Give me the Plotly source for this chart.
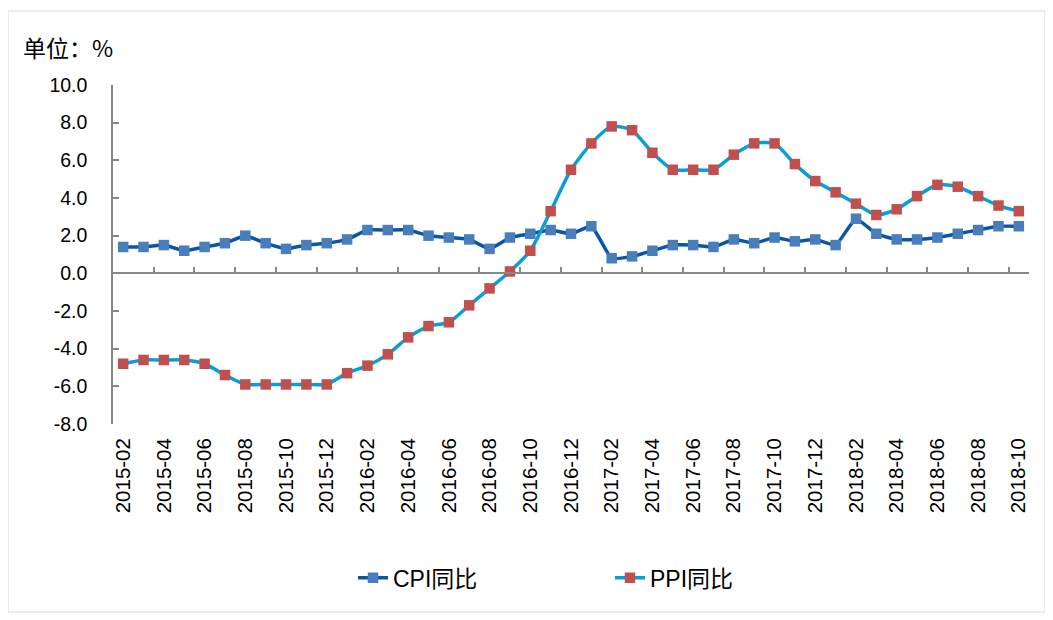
import plotly.graph_objects as go

months = ["2015-02", "2015-03", "2015-04", "2015-05", "2015-06", "2015-07", "2015-08", "2015-09", "2015-10", "2015-11", "2015-12",
          "2016-01", "2016-02", "2016-03", "2016-04", "2016-05", "2016-06", "2016-07", "2016-08", "2016-09", "2016-10", "2016-11", "2016-12",
          "2017-01", "2017-02", "2017-03", "2017-04", "2017-05", "2017-06", "2017-07", "2017-08", "2017-09", "2017-10", "2017-11", "2017-12",
          "2018-01", "2018-02", "2018-03", "2018-04", "2018-05", "2018-06", "2018-07", "2018-08", "2018-09", "2018-10"]

cpi = [1.4, 1.4, 1.5, 1.2, 1.4, 1.6, 2.0, 1.6, 1.3, 1.5, 1.6,
       1.8, 2.3, 2.3, 2.3, 2.0, 1.9, 1.8, 1.3, 1.9, 2.1, 2.3, 2.1,
       2.5, 0.8, 0.9, 1.2, 1.5, 1.5, 1.4, 1.8, 1.6, 1.9, 1.7, 1.8,
       1.5, 2.9, 2.1, 1.8, 1.8, 1.9, 2.1, 2.3, 2.5, 2.5]

ppi = [-4.8, -4.6, -4.6, -4.6, -4.8, -5.4, -5.9, -5.9, -5.9, -5.9, -5.9,
       -5.3, -4.9, -4.3, -3.4, -2.8, -2.6, -1.7, -0.8, 0.1, 1.2, 3.3, 5.5,
       6.9, 7.8, 7.6, 6.4, 5.5, 5.5, 5.5, 6.3, 6.9, 6.9, 5.8, 4.9,
       4.3, 3.7, 3.1, 3.4, 4.1, 4.7, 4.6, 4.1, 3.6, 3.3]

y_ticks = [10, 8, 6, 4, 2, 0, -2, -4, -6, -8]

idx = list(range(len(months)))
font_main = "Liberation Sans, Arial, Noto Sans CJK SC, sans-serif"

fig = go.Figure()
fig.add_trace(go.Scatter(x=idx, y=cpi, name="CPI同比", mode="lines+markers",
                         line=dict(color="#0A56A4", width=3.5, shape="spline", smoothing=0.4),
                         marker=dict(symbol="square", size=10.5, color="#4A7EBB")))
fig.add_trace(go.Scatter(x=idx, y=ppi, name="PPI同比", mode="lines+markers",
                         line=dict(color="#079FDB", width=3.5, shape="spline", smoothing=0.6),
                         marker=dict(symbol="square", size=10.5, color="#C0504D")))
# dummy trace so the tick axis at y=0 gets drawn
fig.add_trace(go.Scatter(x=[-0.5, len(months) - 0.5], y=[0, 0], xaxis="x2", mode="lines",
                         line=dict(width=0), showlegend=False, hoverinfo="skip"))

rng = [-0.5, len(months) - 0.5]
fig.update_layout(
    width=1053, height=620,
    margin=dict(l=105, r=32, t=77, b=204),
    paper_bgcolor="white", plot_bgcolor="white",
    font=dict(family=font_main, size=16, color="black"),
    showlegend=True,
    legend=dict(orientation="h", x=0.262, y=-0.454, xanchor="left", yanchor="middle",
                font=dict(size=23, family=font_main), entrywidth=212, entrywidthmode="pixels"),
    xaxis=dict(range=rng, tickmode="array", tickvals=idx[::2], ticktext=months[::2],
               tickangle=-90, ticks="", showline=False, showgrid=False, zeroline=False,
               tickfont=dict(size=20.5), ticklabelstandoff=9),
    xaxis2=dict(range=rng, overlaying="x", anchor="free", position=8 / 18,
                showline=True, linecolor="#878787", linewidth=1.5,
                tickmode="array", tickvals=[i - 0.5 for i in idx[::2]] + [len(months) - 0.5],
                ticks="inside", ticklen=6, tickcolor="#878787", tickwidth=1.5,
                showticklabels=False, showgrid=False, zeroline=False),
    yaxis=dict(range=[-8, 10], tickmode="array", tickvals=y_ticks,
               ticktext=[f"{v:.1f}" for v in y_ticks],
               ticks="inside", ticklen=6, tickcolor="#878787", tickwidth=1.5,
               showline=True, linecolor="#878787", linewidth=1.5,
               showgrid=False, zeroline=False, tickfont=dict(size=19.5), ticklabelstandoff=20),
)

fig.add_annotation(text="单位：%", xref="paper", yref="paper", x=(21 - 113) / 916, y=(424 - 47) / 339,
                   xanchor="left", yanchor="middle", showarrow=False,
                   font=dict(size=23, family="Noto Sans CJK SC, Liberation Sans, sans-serif"))

fig.add_shape(type="rect", xref="paper", yref="paper",
              x0=(8 - 113) / 916, x1=(1045 - 113) / 916, y0=(424 - 612) / 339, y1=(424 - 11) / 339,
              line=dict(color="#D9D9D9", width=1), fillcolor="rgba(0,0,0,0)", layer="below")

fig.write_html("out.html")
